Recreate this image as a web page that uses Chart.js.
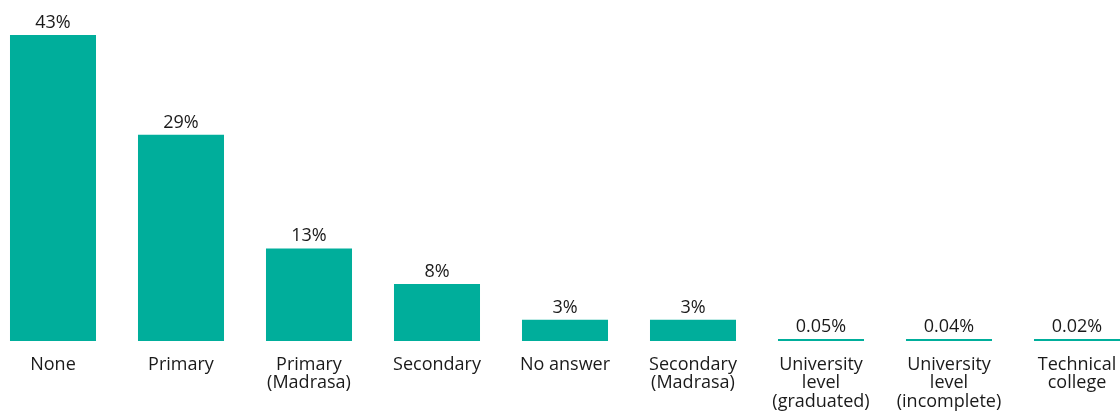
<!DOCTYPE html>
<html>
<head>
<meta charset="utf-8">
<script src="https://cdn.jsdelivr.net/npm/chart.js@4"></script>
<style>
  html, body { margin: 0; padding: 0; background: #fff; overflow: hidden; }
  #wrap { position: absolute; left: -11px; top: 0; width: 1152px; height: 411px; }
</style>
</head>
<body>
<div id="wrap"><canvas id="chart"></canvas></div>
<script>
const categorias = [
  "None",
  "Primary",
  ["Primary", "(Madrasa)"],
  "Secondary",
  "No answer",
  ["Secondary", "(Madrasa)"],
  ["University", "level", "(graduated)"],
  ["University", "level", "(incomplete)"],
  ["Technical", "college"],
];
const porcentajes = [43, 29, 13, 8, 3, 3, 0.05, 0.04, 0.02];
const color = "#00ae9b";

// etiquetas encima de cada barra
const etiquetas = {
  id: "etiquetas",
  afterDatasetsDraw(chart) {
    const ctx = chart.ctx;
    const meta = chart.getDatasetMeta(0);
    ctx.save();
    ctx.font = "18px 'Open Sans'";
    ctx.fillStyle = "#1a1a1a";
    ctx.textAlign = "center";
    ctx.textBaseline = "alphabetic";
    meta.data.forEach((bar, i) => {
      ctx.fillText(porcentajes[i] + "%", bar.x, bar.y - 7);
    });
    ctx.restore();
  },
};

new Chart(document.getElementById("chart"), {
  type: "bar",
  data: {
    labels: categorias,
    datasets: [{
      data: porcentajes,
      backgroundColor: color,
      categoryPercentage: 1,
      barPercentage: 0.672,
      minBarLength: 2,
    }],
  },
  options: {
    responsive: true,
    maintainAspectRatio: false,
    animation: false,
    layout: { padding: { top: 35, bottom: 0, left: 0, right: 0 } },
    plugins: { legend: { display: false }, tooltip: { enabled: false } },
    scales: {
      y: { display: false, min: 0, max: 43 },
      x: {
        grid: { display: false, drawTicks: false },
        border: { display: false },
        afterFit(scale) { scale.height = 70; },
        ticks: {
          color: "#1a1a1a",
          font: { family: "'Open Sans'", size: 18, lineHeight: 1.05 },
          padding: 14,
          maxRotation: 0,
          autoSkip: false,
        },
      },
    },
  },
  plugins: [etiquetas],
});
</script>
</body>
</html>
